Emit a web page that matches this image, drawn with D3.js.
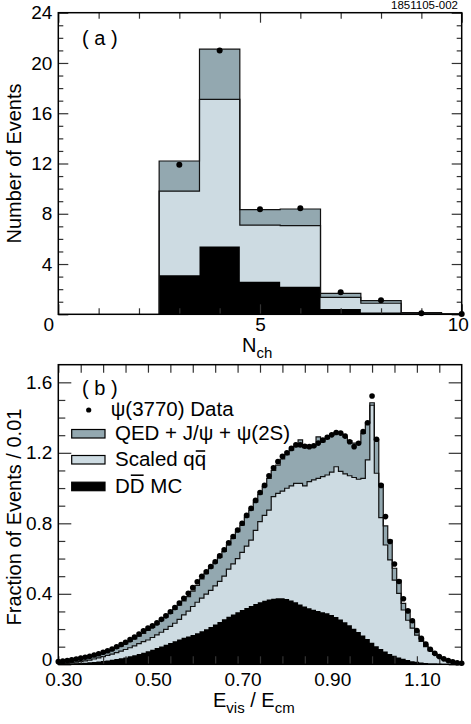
<!DOCTYPE html>
<html>
<head>
<meta charset="utf-8">
<script src="https://cdn.jsdelivr.net/npm/d3@7"></script>
<style>
  body { margin: 0; background: #fff; }
  svg { font-family: "Liberation Sans", Arial, sans-serif; }
</style>
</head>
<body>
<div id="chart"></div>
<script>
// ---- panel (a): number of charged tracks ----
const nchBins = [3, 4, 5, 6, 7, 8, 9, 10];
const nchTotal = [12.2, 21.1, 8.33, 8.38, 1.67, 1.09, 0.13, 0.04];   // DD + qq + QED (stack top)
const nchQQTop = [9.8, 17.1, 7.1, 7.06, 1.35, 0.88, 0.09, 0.02];     // DD + scaled qq
const nchDDMC = [3.1, 5.4, 2.6, 2.2, 0.42, 0.15, 0.04, 0.01];
const nchData = [11.9, 21.0, 8.36, 8.43, 1.75, 1.11, 0.08, 0.02];
const nchXLabels = [0, 5, 10];
const nchYLabels = [0, 4, 8, 12, 16, 20, 24];

// ---- panel (b): visible energy fraction, bins of 0.01 centred on 0.30 ... 1.20 ----
const evisFirstBin = 0.30;
const evisBinWidth = 0.01;
const evisData = [
  0.015,0.018,0.021,0.025,0.030,0.035,0.040,0.046,0.053,0.060,
  0.068,0.077,0.087,0.100,0.112,0.125,0.140,0.155,0.172,0.190,
  0.205,0.218,0.235,0.255,0.275,0.298,0.322,0.348,0.375,0.403,
  0.435,0.468,0.500,0.525,0.555,0.582,0.615,0.650,0.690,0.725,
  0.762,0.800,0.845,0.885,0.930,0.975,1.015,1.070,1.115,1.150,
  1.180,1.200,1.225,1.245,1.245,1.237,1.235,1.240,1.255,1.272,
  1.288,1.302,1.315,1.312,1.295,1.263,1.235,1.254,1.320,1.371,
  1.522,1.277,1.015,0.838,0.697,0.569,0.470,0.372,0.303,0.247,
  0.192,0.147,0.115,0.085,0.062,0.044,0.031,0.021,0.014,0.009,
  0.006];
const evisTotal = [
  0.012,0.015,0.018,0.022,0.026,0.031,0.036,0.042,0.048,0.055,
  0.062,0.071,0.080,0.091,0.103,0.116,0.130,0.144,0.160,0.176,
  0.192,0.210,0.228,0.247,0.267,0.289,0.312,0.336,0.360,0.384,
  0.415,0.448,0.485,0.515,0.545,0.575,0.607,0.640,0.678,0.715,
  0.752,0.790,0.835,0.875,0.920,0.965,1.008,1.055,1.100,1.130,
  1.165,1.190,1.215,1.235,1.273,1.229,1.229,1.235,1.291,1.262,
  1.280,1.300,1.315,1.310,1.290,1.270,1.255,1.260,1.310,1.370,
  1.484,1.273,1.021,0.785,0.705,0.545,0.478,0.346,0.308,0.240,
  0.190,0.145,0.110,0.082,0.060,0.043,0.030,0.020,0.013,0.008,
  0.005];
const evisQQTop = [
  0.004,0.005,0.007,0.009,0.012,0.015,0.019,0.024,0.030,0.037,
  0.044,0.051,0.058,0.066,0.075,0.084,0.094,0.105,0.117,0.129,
  0.138,0.152,0.167,0.182,0.198,0.215,0.233,0.255,0.280,0.302,
  0.328,0.352,0.375,0.398,0.420,0.445,0.470,0.500,0.540,0.570,
  0.600,0.635,0.670,0.705,0.760,0.810,0.845,0.875,0.951,0.970,
  0.983,0.999,1.012,1.027,1.027,1.012,1.036,1.046,1.055,1.065,
  1.074,1.090,1.121,1.095,1.080,1.070,1.060,1.050,1.055,1.160,
  1.470,1.084,0.832,0.677,0.592,0.478,0.402,0.308,0.250,0.205,
  0.165,0.130,0.100,0.076,0.056,0.040,0.028,0.019,0.012,0.008,
  0.005];
const evisDDMC = [
  0.003,0.003,0.004,0.005,0.006,0.007,0.009,0.011,0.013,0.016,
  0.019,0.022,0.026,0.030,0.034,0.039,0.045,0.051,0.058,0.066,
  0.074,0.083,0.092,0.101,0.111,0.121,0.131,0.141,0.150,0.158,
  0.166,0.176,0.188,0.199,0.211,0.226,0.240,0.255,0.270,0.283,
  0.296,0.308,0.320,0.331,0.342,0.352,0.360,0.367,0.372,0.375,
  0.375,0.370,0.362,0.352,0.340,0.328,0.318,0.309,0.302,0.296,
  0.289,0.280,0.268,0.254,0.238,0.221,0.202,0.183,0.163,0.143,
  0.122,0.103,0.087,0.072,0.059,0.048,0.039,0.031,0.024,0.018,
  0.014,0.010,0.007,0.005,0.004,0.003,0.002,0.002,0.001,0.001,
  0.001];
const evisBins = evisData.map((d, i) => +(evisFirstBin + i * evisBinWidth).toFixed(2));
const evisXLabels = [0.30, 0.50, 0.70, 0.90, 1.10];
const evisYLabels = [0, 0.4, 0.8, 1.2, 1.6];

const COL_QED = '#93a8b0';
const COL_QQ = '#cddbe2';

// bar: index of a character that carries an over-bar
const legendItems = [
  {type: 'dot', label: 'ψ(3770) Data', bar: null},
  {type: 'box', fill: COL_QED, label: 'QED + J/ψ + ψ(2S)', bar: null},
  {type: 'box', fill: COL_QQ, label: 'Scaled qq', bar: 8},
  {type: 'box', fill: '#000', label: 'DD MC', bar: 1}
];

class StackPanel {

  constructor(_config, _data) {
    this.config = {
      svg: _config.svg,
      left: 58.3,
      width: 403.4,
      top: _config.top,
      height: _config.height,
      xDomain: _config.xDomain,
      yDomain: _config.yDomain,
      binWidth: _config.binWidth,
      xMajor: _config.xMajor,
      xMinor: _config.xMinor,
      xLabelDx: _config.xLabelDx,
      xLabelFormat: _config.xLabelFormat,
      xLabelPad: _config.xLabelPad,
      yLabels: _config.yLabels,
      yMinor: _config.yMinor,
      yLabelFormat: _config.yLabelFormat,
      yLabelDy: _config.yLabelDy,
      yMajorLen: _config.yMajorLen,
      yMinorLen: _config.yMinorLen,
      xMajorLen: _config.xMajorLen,
      xMinorLen: _config.xMinorLen,
      dotR: _config.dotR,
      id: _config.id
    };
    this.data = _data;
    this.initVis();
  }

  initVis() {
    let vis = this;
    const c = vis.config;

    vis.xScale = d3.scaleLinear().domain(c.xDomain).range([0, c.width]);
    vis.yScale = d3.scaleLinear().domain(c.yDomain).range([c.height, 0]);

    vis.chart = c.svg.append('g')
        .attr('transform', `translate(${c.left},${c.top})`);

    vis.chart.append('clipPath')
        .attr('id', 'clip-' + c.id)
      .append('rect')
        .attr('width', c.width)
        .attr('height', c.height);

    vis.plotArea = vis.chart.append('g')
        .attr('clip-path', `url(#clip-${c.id})`);

    vis.area = d3.area()
        .x(d => vis.xScale(d[0]))
        .y0(vis.yScale(0))
        .y1(d => vis.yScale(d[1]));

    vis.line = d3.line()
        .x(d => vis.xScale(d[0]))
        .y(d => vis.yScale(d[1]));
  }

  // turn bin values into the corner points of a histogram outline
  stepPoints(values) {
    const w = this.config.binWidth;
    const bins = this.data.bins;
    const pts = [[bins[0] - w / 2, 0]];
    bins.forEach((b, i) => {
      pts.push([b - w / 2, values[i]], [b + w / 2, values[i]]);
    });
    pts.push([bins[bins.length - 1] + w / 2, 0]);
    return pts;
  }

  renderVis() {
    let vis = this;
    const c = vis.config;

    const layers = [
      {values: vis.data.total, fill: COL_QED, outline: true},
      {values: vis.data.qqTop, fill: COL_QQ, outline: true},
      {values: vis.data.dd, fill: '#000', outline: false}
    ];

    vis.plotArea.selectAll('.layer')
        .data(layers)
        .join('path')
        .attr('class', 'layer')
        .attr('fill', d => d.fill)
        .attr('d', d => vis.area(vis.stepPoints(d.values)));

    vis.plotArea.selectAll('.outline')
        .data(layers.filter(d => d.outline))
        .join('path')
        .attr('class', 'outline')
        .attr('fill', 'none')
        .attr('stroke', '#111')
        .attr('stroke-width', 1.2)
        .attr('d', d => vis.line(vis.stepPoints(d.values)));

    // ticks, all pointing into the frame
    const yMaj = d3.axisLeft(vis.yScale).tickValues(c.yLabels)
        .tickSize(-c.yMajorLen).tickPadding(6).tickFormat(c.yLabelFormat);
    const yMin = d3.axisLeft(vis.yScale).tickValues(c.yMinor)
        .tickSize(-c.yMinorLen).tickFormat('');
    const yMajR = d3.axisRight(vis.yScale).tickValues(c.yLabels)
        .tickSize(-c.yMajorLen).tickFormat('');
    const yMinR = d3.axisRight(vis.yScale).tickValues(c.yMinor)
        .tickSize(-c.yMinorLen).tickFormat('');
    const xMaj = d3.axisBottom(vis.xScale).tickValues(c.xMajor)
        .tickSize(-c.xMajorLen).tickPadding(c.xLabelPad).tickFormat(c.xLabelFormat);
    const xMin = d3.axisBottom(vis.xScale).tickValues(c.xMinor)
        .tickSize(-c.xMinorLen).tickFormat('');
    const xMajT = d3.axisTop(vis.xScale).tickValues(c.xMajor)
        .tickSize(-c.xMajorLen).tickFormat('');
    const xMinT = d3.axisTop(vis.xScale).tickValues(c.xMinor)
        .tickSize(-c.xMinorLen).tickFormat('');

    const axes = [
      [yMaj, null, 'y-lab'], [yMin, null, ''],
      [yMajR, `translate(${c.width},0)`, ''], [yMinR, `translate(${c.width},0)`, ''],
      [xMaj, `translate(0,${c.height})`, 'x-lab'], [xMin, `translate(0,${c.height})`, ''],
      [xMajT, null, ''], [xMinT, null, '']
    ];
    axes.forEach(([ax, tr, cls]) => {
      const g = vis.chart.append('g').attr('class', 'axis ' + cls);
      if (tr) g.attr('transform', tr);
      g.call(ax);
      g.select('.domain').remove();
      g.selectAll('line').attr('stroke', '#333').attr('stroke-width', 1.2);
      g.selectAll('text')
          .attr('fill', '#000')
          .style('font-size', '19px')
          .style('font-family', '"Liberation Sans", Arial, sans-serif');
    });
    vis.chart.selectAll('.x-lab text').attr('dx', d => c.xLabelDx(d));
    vis.chart.selectAll('.y-lab text').attr('y', d => c.yLabelDy(d));

    // data points
    vis.chart.selectAll('.dot')
        .data(vis.data.bins.map((b, i) => ({x: b, y: vis.data.points[i]})))
        .join('circle')
        .attr('class', 'dot')
        .attr('cx', d => vis.xScale(d.x))
        .attr('cy', d => vis.yScale(d.y))
        .attr('r', c.dotR)
        .attr('fill', '#000');

    // frame
    vis.chart.append('rect')
        .attr('width', c.width)
        .attr('height', c.height)
        .attr('fill', 'none')
        .attr('stroke', '#000')
        .attr('stroke-width', 1.5);
  }
}

const svg = d3.select('#chart').append('svg')
    .attr('width', 471)
    .attr('height', 724);

svg.append('text')
    .attr('x', 458).attr('y', 9)
    .attr('text-anchor', 'end')
    .style('font-size', '11.5px')
    .text('1851105-002');

// panel (a)
const panelA = new StackPanel({
  svg: svg, id: 'a',
  top: 12.7, height: 301.6,
  xDomain: [0, 10], yDomain: [0, 24], binWidth: 1,
  xMajor: nchXLabels, xMinor: d3.range(1, 10).filter(d => d !== 5),
  xLabelDx: d => (d === 0 ? -10 : d === 10 ? -4 : 0),
  xLabelFormat: d3.format('d'), xLabelPad: 3,
  yLabels: nchYLabels, yMinor: d3.range(1, 24).filter(d => d % 4 !== 0),
  yLabelFormat: d => (d === 0 ? '' : d),
  yLabelDy: d => 0,
  yMajorLen: 10, yMinorLen: 5, xMajorLen: 10, xMinorLen: 6, dotR: 3
}, {bins: nchBins, total: nchTotal, qqTop: nchQQTop, dd: nchDDMC, points: nchData});
panelA.renderVis();

// panel (b)
const panelB = new StackPanel({
  svg: svg, id: 'b',
  top: 364.7, height: 299.6,
  xDomain: [0.30, 1.20], yDomain: [0, 1.7], binWidth: evisBinWidth,
  xMajor: evisXLabels, xMinor: d3.range(0.35, 1.19, 0.05).filter(d => Math.abs(((d - 0.3) / 0.2) - Math.round((d - 0.3) / 0.2)) > 0.01),
  xLabelDx: d => 5,
  xLabelFormat: d3.format('.2f'), xLabelPad: 8.5,
  yLabels: evisYLabels, yMinor: d3.range(0.1, 1.7, 0.1).filter(d => Math.abs(d / 0.4 - Math.round(d / 0.4)) > 0.01),
  yLabelFormat: d => (d === 0 ? '0' : d3.format('.1f')(d)),
  yLabelDy: d => (d === 0 ? -4.5 : 0),
  yMajorLen: 13, yMinorLen: 7, xMajorLen: 8, xMinorLen: 8, dotR: 2.8
}, {bins: evisBins, total: evisTotal, qqTop: evisQQTop, dd: evisDDMC, points: evisData});
panelB.renderVis();

// panel tags
svg.append('text').attr('x', 82).attr('y', 45).style('font-size', '20px').text('( a )');
svg.append('text').attr('x', 82).attr('y', 395).style('font-size', '20px').text('( b )');

// axis titles
const nTitle = svg.append('text').attr('x', 242).attr('y', 351.5).style('font-size', '20px');
nTitle.append('tspan').text('N');
nTitle.append('tspan').attr('dy', 6).style('font-size', '15px').text('ch');

const eTitle = svg.append('text').attr('x', 213).attr('y', 707).style('font-size', '20px');
eTitle.append('tspan').text('E');
eTitle.append('tspan').attr('dy', 6).style('font-size', '15px').text('vis');
eTitle.append('tspan').attr('dy', -6).text(' / E');
eTitle.append('tspan').attr('dy', 6).style('font-size', '15px').text('cm');

svg.append('text')
    .attr('transform', 'translate(21,163.5) rotate(-90)')
    .attr('text-anchor', 'middle')
    .style('font-size', '20px')
    .text('Number of Events');

svg.append('text')
    .attr('transform', 'translate(21,517) rotate(-90)')
    .attr('text-anchor', 'middle')
    .style('font-size', '20px')
    .text('Fraction of Events / 0.01');

// legend
const legendBaselines = [416, 440, 466, 492.7];
const legend = svg.append('g').attr('transform', 'translate(71.7,0)');
legendItems.forEach((d, i) => {
  const base = legendBaselines[i];
  const row = legend.append('g');
  if (d.type === 'dot') {
    row.append('circle').attr('cx', 17).attr('cy', base - 6).attr('r', 2.6).attr('fill', '#000');
  } else {
    row.append('rect')
        .attr('x', 0).attr('y', base - 10.5).attr('width', 33.3).attr('height', 8.5)
        .attr('fill', d.fill).attr('stroke', '#000').attr('stroke-width', 1.2);
  }
  const t = row.append('text')
      .attr('x', d.type === 'dot' ? 39 : 43.3)
      .attr('y', base)
      .style('font-size', '20.5px')
      .text(d.label);
  if (d.bar !== null) {
    const ext = t.node().getExtentOfChar(d.bar);
    const lift = d.label.charAt(d.bar) === 'q' ? 15 : 17.5;
    row.append('line')
        .attr('x1', ext.x + 1).attr('x2', ext.x + ext.width - 1)
        .attr('y1', base - lift).attr('y2', base - lift)
        .attr('stroke', '#000').attr('stroke-width', 1.6);
  }
});
</script>
</body>
</html>
